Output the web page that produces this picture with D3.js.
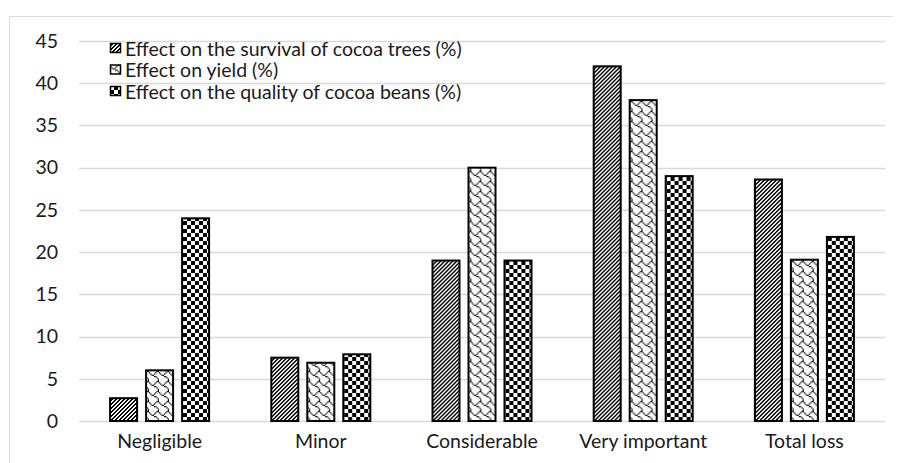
<!DOCTYPE html>
<html>
<head>
<meta charset="utf-8">
<script src="https://cdn.jsdelivr.net/npm/d3@7"></script>
<style>
  html, body { margin: 0; padding: 0; background: #fff; }
  svg { display: block; }
  text { font-family: Lato, "Open Sans", sans-serif; fill: #1a1a1a; }
</style>
</head>
<body>
<svg id="chart" width="902" height="463"></svg>
<script>
// Perception of cocoa damage, by severity class
const categories = ["Negligible", "Minor", "Considerable", "Very important", "Total loss"];
const seriesNames = [
  "Effect on the survival of cocoa trees (%)",
  "Effect on yield (%)",
  "Effect on the quality of cocoa beans (%)"
];
const survival = [2.7, 7.5, 19, 42, 28.6];
const yieldEffect = [6, 6.9, 30, 38, 19.1];
const quality = [24, 7.9, 19, 29, 21.8];
const yTicks = [0, 5, 10, 15, 20, 25, 30, 35, 40, 45];

const seriesValues = [survival, yieldEffect, quality];

const svg = d3.select("#chart");
const W = 902, H = 463;
const margin = { top: 41, right: 17, bottom: 42, left: 79 };
const plotW = W - margin.left - margin.right;
const plotH = H - margin.top - margin.bottom;
const FONT = 19.5;

// 8x8 hatch bitmaps (bit 7 = leftmost pixel) and the scale each is drawn at
const hatchBits = [
  [0x33, 0x66, 0xcc, 0x99, 0x33, 0x66, 0xcc, 0x99], // dark upward diagonal
  [0x03, 0x84, 0x48, 0x30, 0x0c, 0x02, 0x01, 0x01], // shingle
  [0x0f, 0x0f, 0x0f, 0x0f, 0xf0, 0xf0, 0xf0, 0xf0]  // large checkerboard
];
const hatchScale = [1, 1.25, 1];

const defs = svg.append("defs");
hatchBits.forEach((bits, i) => {
  const s = hatchScale[i];
  const p = defs.append("pattern")
    .attr("id", "hatch" + i)
    .attr("patternUnits", "userSpaceOnUse")
    .attr("width", 8 * s).attr("height", 8 * s);
  p.append("rect").attr("width", 8 * s).attr("height", 8 * s).attr("fill", "#fff");
  const px = [];
  bits.forEach((b, y) => {
    for (let x = 0; x < 8; x++) if (b & (0x80 >> x)) px.push({ x, y });
  });
  p.selectAll("rect.px").data(px).join("rect")
    .attr("class", "px")
    .attr("x", d => d.x * s).attr("y", d => d.y * s)
    .attr("width", s).attr("height", s)
    .attr("fill", "#000")
    .attr("shape-rendering", s === 1 ? "crispEdges" : "auto");
});

// outer chart frame
svg.append("path")
  .attr("d", "M9.5,463 V16.5 H893")
  .attr("fill", "none")
  .attr("stroke", "#d9d9d9")
  .attr("stroke-width", 1);

const g = svg.append("g").attr("transform", `translate(${margin.left},${margin.top})`);

const y = d3.scaleLinear().domain([0, 45]).range([plotH, 0]);
const x0 = d3.scaleBand().domain(categories).range([0, plotW]).padding(0);
const groupW = 101;
const x1 = d3.scaleBand().domain(d3.range(seriesNames.length))
  .range([(x0.bandwidth() - groupW) / 2, (x0.bandwidth() + groupW) / 2])
  .paddingInner(7 / 36).paddingOuter(0);

// gridlines
g.append("g").selectAll("line").data(yTicks).join("line")
  .attr("x1", 0).attr("x2", plotW)
  .attr("y1", d => Math.round(y(d)) + 0.5).attr("y2", d => Math.round(y(d)) + 0.5)
  .attr("stroke", "#d9d9d9").attr("stroke-width", 1.5);

// y axis labels
const yAxis = g.append("g").call(d3.axisLeft(y).tickValues(yTicks).tickSize(0).tickPadding(21));
yAxis.select(".domain").remove();
yAxis.selectAll("text").attr("font-size", FONT).attr("fill", "#1a1a1a")
  .style("font-family", "Lato, 'Open Sans', sans-serif");

// x axis labels
const xAxis = g.append("g").attr("transform", `translate(0,${plotH})`)
  .call(d3.axisBottom(x0).tickSize(0).tickPadding(13));
xAxis.select(".domain").remove();
xAxis.selectAll("text").attr("font-size", FONT).attr("fill", "#1a1a1a")
  .style("font-family", "Lato, 'Open Sans', sans-serif");

// bars
const groups = g.append("g").selectAll("g").data(categories).join("g")
  .attr("transform", c => `translate(${x0(c)},0)`);
groups.selectAll("rect")
  .data((c, ci) => seriesValues.map((vals, si) => ({ si, v: vals[ci] })))
  .join("rect")
  .attr("x", d => x1(d.si) + 1)
  .attr("y", d => y(d.v))
  .attr("width", x1.bandwidth() - 2)
  .attr("height", d => plotH - y(d.v))
  .attr("fill", d => `url(#hatch${d.si})`)
  .attr("stroke", "#000")
  .attr("stroke-width", 2);

// legend
const legend = svg.append("g").attr("transform", "translate(110,43)");
const items = legend.selectAll("g").data(seriesNames).join("g")
  .attr("transform", (d, i) => `translate(0,${i * 21.5})`);
items.append("rect")
  .attr("x", 0.5).attr("y", 0.5).attr("width", 10).attr("height", 9)
  .attr("fill", (d, i) => `url(#hatch${i})`)
  .attr("stroke", "#000").attr("stroke-width", 1.5);
items.append("text")
  .attr("x", 15).attr("y", 6).attr("dy", "0.35em")
  .attr("font-size", FONT)
  .text(d => d);
</script>
</body>
</html>
